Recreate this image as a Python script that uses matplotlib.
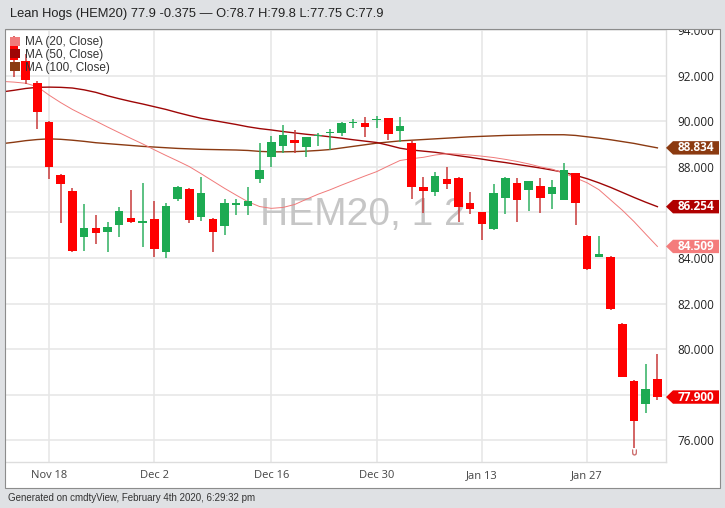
import numpy as np
import matplotlib.pyplot as plt
from matplotlib.patches import Rectangle, Polygon, Patch
from matplotlib import transforms

# daily candles, Lean Hogs (HEM20)
dates = ["Nov 12", "Nov 13", "Nov 14", "Nov 15", "Nov 18", "Nov 19", "Nov 20", "Nov 21",
         "Nov 22", "Nov 25", "Nov 26", "Nov 27", "Nov 29", "Dec 2", "Dec 3", "Dec 4",
         "Dec 5", "Dec 6", "Dec 9", "Dec 10", "Dec 11", "Dec 12", "Dec 13", "Dec 16",
         "Dec 17", "Dec 18", "Dec 19", "Dec 20", "Dec 23", "Dec 24", "Dec 26", "Dec 27",
         "Dec 30", "Dec 31", "Jan 2", "Jan 3", "Jan 6", "Jan 7", "Jan 8", "Jan 9",
         "Jan 10", "Jan 13", "Jan 14", "Jan 15", "Jan 16", "Jan 17", "Jan 21", "Jan 22",
         "Jan 23", "Jan 24", "Jan 27", "Jan 28", "Jan 29", "Jan 30", "Jan 31", "Feb 3", "Feb 4"]

opens = [92.60, 93.30, 92.66, 91.70, 89.95, 87.65, 86.95, 84.91, 85.31, 85.16, 85.45, 85.77,
         85.55, 85.71, 84.28, 86.58, 87.05, 85.82, 85.71, 85.41, 86.33, 86.29, 87.46, 88.45,
         88.92, 89.19, 88.87, 89.35, 89.48, 89.48, 89.92, 89.92, 90.05, 90.14, 89.58, 89.04,
         87.11, 86.91, 87.47, 87.53, 86.40, 86.01, 85.27, 86.62, 87.28, 86.99, 87.16, 86.81,
         86.55, 87.72, 84.98, 84.03, 84.06, 81.09, 78.59, 77.61, 78.70]
highs = [93.30, 93.75, 92.97, 91.75, 90.00, 87.70, 87.09, 86.36, 85.89, 85.60, 86.25, 86.99,
         87.31, 86.51, 86.43, 87.18, 87.09, 87.57, 85.75, 86.58, 86.58, 87.13, 89.04, 89.36,
         89.85, 89.60, 89.33, 89.48, 89.67, 89.99, 90.11, 90.21, 90.24, 90.16, 90.21, 89.19,
         87.55, 87.79, 87.99, 87.55, 86.89, 86.03, 87.25, 87.57, 87.49, 87.38, 87.53, 87.43,
         88.19, 87.74, 85.00, 84.97, 84.09, 81.16, 78.64, 79.37, 79.80]
lows = [92.40, 91.95, 91.65, 89.66, 87.46, 85.55, 84.26, 84.32, 84.62, 84.28, 84.91, 85.53,
        84.50, 84.03, 83.99, 86.50, 85.53, 85.64, 84.26, 85.01, 85.89, 85.89, 87.28, 88.01,
        88.60, 88.60, 88.45, 88.92, 88.75, 89.36, 89.70, 89.31, 89.70, 89.19, 89.11, 86.58,
        85.96, 86.73, 87.02, 85.60, 85.93, 84.79, 85.25, 85.93, 85.58, 86.08, 85.96, 86.15,
        86.55, 85.45, 83.47, 84.03, 81.74, 78.78, 75.68, 77.20, 77.75]
closes = [93.05, 92.70, 91.82, 90.40, 87.99, 87.25, 84.32, 85.31, 85.09, 85.38, 86.07, 85.60,
          85.63, 84.40, 86.30, 87.13, 85.67, 86.87, 85.14, 86.40, 86.40, 86.51, 87.87, 89.11,
          89.41, 89.04, 89.33, 89.42, 89.55, 89.92, 89.96, 89.77, 90.11, 89.45, 89.80, 87.11,
          86.96, 87.62, 87.24, 86.23, 86.17, 85.48, 86.84, 87.53, 86.55, 87.38, 86.65, 87.13,
          87.87, 86.40, 83.52, 84.17, 81.77, 78.80, 76.85, 78.275, 77.90]

ma20 = [91.75, 91.72, 91.67, 91.52, 91.15, 90.82, 90.52, 90.26, 90.01, 89.75, 89.50, 89.25,
        89.01, 88.75, 88.50, 88.26, 88.01, 87.70, 87.38, 87.06, 86.76, 86.47, 86.26, 86.18,
        86.22, 86.35, 86.58, 86.80, 86.99, 87.20, 87.40, 87.60, 87.79, 88.04, 88.28, 88.36,
        88.42, 88.52, 88.58, 88.56, 88.52, 88.47, 88.41, 88.33, 88.24, 88.13, 88.00, 87.90,
        87.72, 87.52, 87.30, 87.00, 86.55, 86.10, 85.60, 85.05, 84.509]
ma50 = [91.29, 91.36, 91.44, 91.49, 91.50, 91.49, 91.46, 91.38, 91.27, 91.12, 90.99, 90.87,
        90.76, 90.64, 90.52, 90.38, 90.25, 90.13, 90.04, 89.95, 89.86, 89.76, 89.68, 89.62,
        89.55, 89.49, 89.43, 89.38, 89.32, 89.26, 89.19, 89.13, 89.07, 88.95, 88.82, 88.74,
        88.69, 88.64, 88.57, 88.49, 88.42, 88.34, 88.26, 88.19, 88.11, 88.03, 87.95, 87.86,
        87.76, 87.63, 87.48, 87.30, 87.10, 86.88, 86.66, 86.45, 86.254]
ma100 = [89.02, 89.08, 89.15, 89.20, 89.23, 89.21, 89.17, 89.12, 89.06, 89.02, 88.98, 88.94,
         88.90, 88.87, 88.84, 88.81, 88.79, 88.77, 88.76, 88.75, 88.74, 88.72, 88.68, 88.66,
         88.66, 88.67, 88.69, 88.72, 88.76, 88.83, 88.90, 88.97, 89.04, 89.09, 89.14, 89.17,
         89.20, 89.23, 89.26, 89.29, 89.32, 89.34, 89.36, 89.38, 89.39, 89.40, 89.41, 89.41,
         89.41, 89.38, 89.32, 89.26, 89.19, 89.11, 89.03, 88.93, 88.834]

tick_dates = ["Nov 18", "Dec 2", "Dec 16", "Dec 30", "Jan 13", "Jan 27"]
price_ticks = [76, 78, 80, 82, 84, 86, 88, 90, 92, 94]
ma_labels = ["MA (20, Close)", "MA (50, Close)", "MA (100, Close)"]

title = "Lean Hogs (HEM20) 77.9 -0.375 \u2014 O:78.7 H:79.8 L:77.75 C:77.9"
footer = "Generated on cmdtyView, February 4th 2020, 6:29:32 pm"

BG = '#dfe1e4'
UP, DOWN = '#1daa52', '#ff0000'
UP_WICK, DOWN_WICK = '#2fb060', '#c83a3a'
C20, C50, C100 = '#f07a7a', '#9e0606', '#8b3a12'
TAG20, TAG50, TAG100, TAGC = '#f47c7c', '#b00000', '#8b3a10', '#f00000'

W, H = 725, 508
fx = lambda px: px / W
fy = lambda py: 1 - py / H

fig = plt.figure(figsize=(W / 100, H / 100), dpi=100)
fig.patch.set_facecolor(BG)

# white chart box
fig.add_artist(Rectangle((fx(5), fy(488)), fx(720) - fx(5), fy(29) - fy(488),
                         transform=fig.transFigure, facecolor='white', edgecolor='none', zorder=-1))

ax = fig.add_axes([fx(5), fy(462), fx(666) - fx(5), fy(29) - fy(462)])
ax.set_facecolor('white')

x = np.arange(len(dates))
o, h, l, c = map(np.array, (opens, highs, lows, closes))
up = c >= o

ax.plot(x, ma100, color=C100, lw=1.0, zorder=2.5)
ax.plot(x, ma50, color=C50, lw=1.0, zorder=2.5)
ax.plot(x, ma20, color=C20, lw=0.7, zorder=2.5)

ax.vlines(x, l, h, colors=np.where(up, UP_WICK, DOWN_WICK), lw=1.1, zorder=3)
ax.bar(x, np.maximum(np.abs(c - o), 0.06), bottom=np.minimum(o, c), width=0.72,
       color=np.where(up, UP, DOWN), edgecolor='none', zorder=4)

# lowest low marker
imin = int(np.argmin(l))
ax.plot(x[imin], l[imin], marker=r'$\cup$', ms=4, mew=0.3, color='#c86060', zorder=4,
        transform=transforms.offset_copy(ax.transData, fig=fig, x=0, y=-4, units='dots'))

# watermark
ax.text(0.5416, 0.547, "HEM20, 1 2", transform=ax.transAxes, ha='center', va='baseline',
        fontsize=28, family='Liberation Sans', color='#c6c6c6', zorder=0.8)

ax.set_xlim(0.239, 56.735)
ax.set_ylim(75.05, 94.05)

# last values shown as tags on the price axis; tick labels under a tag are covered
tags = [(ma100[-1], TAG100), (ma50[-1], TAG50), (ma20[-1], TAG20), (closes[-1], TAGC)]
ytick_labels = ["" if any(abs(v - t) < 0.45 for t, _ in tags) else f"{v:.3f}"
                for v in price_ticks]

ax.set_xticks([dates.index(d) for d in tick_dates])
ax.set_xticklabels(tick_dates, family='Open Sans')
ax.set_yticks(price_ticks)
ax.set_yticklabels(ytick_labels, family='Open Sans')
ax.yaxis.tick_right()
ax.tick_params(axis='y', length=0, pad=8.5, labelsize=8.5, labelcolor='#222222')
ax.tick_params(axis='x', length=0, pad=6, labelsize=8, labelcolor='#444444')
ax.grid(True, color='#e6e6e6', lw=1.1)
ax.set_axisbelow(True)
for s in ('top', 'left'):
    ax.spines[s].set_visible(False)
for s in ('right', 'bottom'):
    ax.spines[s].set_color('#dddddd')
    ax.spines[s].set_linewidth(1.0)

# legend
handles = [Patch(facecolor=col, edgecolor='none') for col in (C20, C50, C100)]
leg = ax.legend(handles, ma_labels, loc='upper left', bbox_to_anchor=(0, 0.995), frameon=False,
                prop={'family': 'Liberation Sans', 'size': 8.5}, handlelength=0.8,
                handleheight=0.8, handletextpad=0.45, labelspacing=0.05,
                borderaxespad=0.25, borderpad=0.2)
for t in leg.get_texts():
    t.set_color('#333333')

blend = transforms.blended_transform_factory(ax.transAxes, ax.transData)
tag_shape = [(0, 0), (7, 6.7), (53, 6.7), (53, -6.7), (7, -6.7)]
for val, col in tags:
    tr = (transforms.Affine2D().scale(1 / 100) + fig.dpi_scale_trans
          + transforms.ScaledTranslation(1.0, val, blend))
    ax.add_patch(Polygon(tag_shape, closed=True, transform=tr, facecolor=col,
                         edgecolor='none', clip_on=False, zorder=6))
    ax.text(30, 0, f"{val:.3f}", transform=tr, ha='center', va='center', color='white',
            fontsize=8.5, fontweight='bold', family='Open Sans', clip_on=False, zorder=7)

# cover above the chart box, then the box border
fig.add_artist(Rectangle((0, fy(29.5)), 1, 1 - fy(29.5), transform=fig.transFigure,
                         facecolor=BG, edgecolor='none', zorder=5))
fig.add_artist(Rectangle((fx(5), fy(488)), fx(720) - fx(5), fy(29) - fy(488),
                         transform=fig.transFigure, facecolor='none', edgecolor='#8c8c8c',
                         lw=0.8, zorder=6))

fig.text(fx(10), fy(13.5), title, fontsize=9.3, family='Liberation Sans', color='#222222',
         va='center', zorder=7)
fig.text(fx(8), fy(498), footer, fontsize=7, family='Liberation Sans', color='#333333',
         va='center', zorder=7)

fig.savefig('out.png', dpi=100, facecolor=fig.get_facecolor())
